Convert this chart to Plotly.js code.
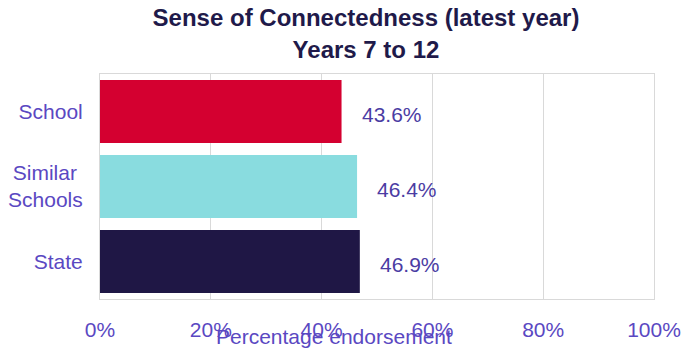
<!DOCTYPE html>
<html>
<head>
<meta charset="utf-8">
<script src="https://cdn.plot.ly/plotly-3.0.1.min.js"></script>
<style>html,body{margin:0;padding:0;background:#fff;}#chart{width:699px;height:351px;}</style>
</head>
<body>
<div id="chart"></div>
<script>
const categories = ["School", "Similar\u00a0<br>Schools", "State"];
const values = [43.6, 46.4, 46.9];
const valueLabels = ["43.6%", "46.4%", "46.9%"];
const barColors = ["#d40030", "#89dcdf", "#1f1745"];
const xTickVals = [0, 20, 40, 60, 80, 100];
const xTickText = ["0%", "20%", "40%", "60%", "80%", "100%"];

const FONT = "Liberation Sans, Arial, Helvetica, sans-serif";
const TICKCOL = "#5a48c2";
const LABELCOL = "#4b3ca3";

const trace = {
  type: "bar",
  orientation: "h",
  x: values,
  y: categories,
  marker: { color: barColors },
  hoverinfo: "none"
};

const annotations = values.map((v, i) => ({
  x: v, y: categories[i], xref: "x", yref: "y",
  text: valueLabels[i], showarrow: false,
  xanchor: "left", yanchor: "middle", xshift: 18, yshift: -3,
  font: { family: FONT, size: 21, color: LABELCOL }
}));
annotations.push({
  x: (334 - 100) / 554, y: 0, xref: "paper", yref: "paper",
  text: "Percentage endorsement", showarrow: false,
  xanchor: "center", yanchor: "middle", yshift: -37,
  font: { family: FONT, size: 21, color: TICKCOL }
});

const layout = {
  width: 699, height: 351,
  margin: { l: 100, r: 45, t: 74, b: 52 },
  paper_bgcolor: "#fff", plot_bgcolor: "#fff",
  font: { family: FONT, size: 21, color: TICKCOL },
  title: {
    text: "<b>Sense of Connectedness (latest year)<br>Years 7 to 12</b>",
    x: 366 / 699, xanchor: "center", xref: "container",
    y: 0.925, yanchor: "top", yref: "container",
    font: { family: FONT, size: 24, color: "#1f1a4a" }
  },
  bargap: 0.16,
  showlegend: false,
  xaxis: {
    range: [0, 100], tickvals: xTickVals, ticktext: xTickText,
    showgrid: true, gridcolor: "#d9d9d9", gridwidth: 1,
    showline: true, linecolor: "#d9d9d9", linewidth: 1, mirror: true,
    zeroline: false, ticks: "", ticklabelstandoff: 12,
    tickfont: { family: FONT, size: 21, color: TICKCOL },
    fixedrange: true
  },
  yaxis: {
    autorange: "reversed", type: "category",
    showgrid: false,
    showline: true, linecolor: "#d9d9d9", linewidth: 1, mirror: true,
    zeroline: false, ticks: "", ticklabelstandoff: 12,
    tickfont: { family: FONT, size: 21, color: TICKCOL },
    fixedrange: true
  },
  annotations: annotations
};

Plotly.newPlot("chart", [trace], layout, { displayModeBar: false, staticPlot: true });
</script>
</body>
</html>
